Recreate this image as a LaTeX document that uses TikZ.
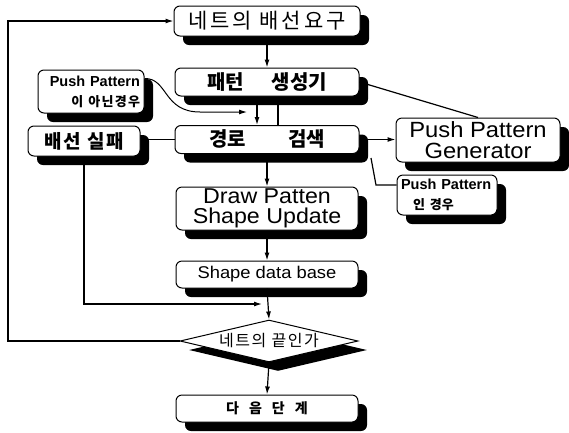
\documentclass[tikz,border=0pt]{standalone}
\usepackage{fontspec}
\setmainfont{Liberation Sans}
\newfontfamily\lat{Liberation Sans}[FakeStretch=1.08]
\newfontfamily\kr{Noto Sans CJK KR}
\newfontfamily\krs{Noto Sans CJK KR}[LetterSpace=10]
\newfontfamily\krw{Noto Sans CJK KR}[LetterSpace=14]
\usetikzlibrary{shapes.geometric,shadows,arrows.meta}
\begin{document}
\begin{tikzpicture}[x=1pt,y=-1pt,
  shadowed/.style={general shadow={fill=black, shadow xshift=9pt, shadow yshift=-9pt}},
  box/.style={draw, line width=1pt, rounded corners=6pt, fill=white, inner sep=0pt, align=center, shadowed},
  conn/.style={line width=1.2pt},
  arr/.style={conn, -{Latex[length=8pt,width=5pt]}},
]
\useasboundingbox (0,0) rectangle (569,432);

\node[box, minimum width=186pt, minimum height=30pt, font={\krw\fontsize{21}{21}\selectfont}] (b1) at (267,21)
  {네트의 배선요구};
\node[box, minimum width=184pt, minimum height=28pt, font={\kr\bfseries\fontsize{20}{20}\selectfont}] (b2) at (267,82)
  {패턴\hspace{28pt}생성기};
\node[box, minimum width=106pt, minimum height=43pt, text width=98pt, align=right,
      font={\bfseries\fontsize{14.5}{20}\selectfont}] (ppa) at (91,91.5)
  {Push Pattern\\ {\krs\bfseries\fontsize{13}{20}\selectfont 이 아닌경우}};
\node[box, minimum width=112pt, minimum height=30pt, font={\krs\bfseries\fontsize{19}{19}\selectfont}] (fail) at (84,141)
  {배선 실패};
\node[box, minimum width=184pt, minimum height=28pt, font={\kr\bfseries\fontsize{20}{20}\selectfont}] (path) at (267,139.5)
  {경로\hspace{42pt}검색};
\node[box, minimum width=164pt, minimum height=44pt, font={\lat\fontsize{22}{21}\selectfont}] (ppg) at (478,140)
  {Push Pattern\\Generator};
\node[box, minimum width=100pt, minimum height=40pt, text width=92pt, align=left,
      font={\bfseries\fontsize{14.5}{20}\selectfont}] (ppi) at (447,195)
  {Push Pattern\\ \hspace*{12pt}{\kr\bfseries\fontsize{13}{20}\selectfont 인 경우}};
\node[box, minimum width=182pt, minimum height=43pt, font={\lat\fontsize{21.5}{20.5}\selectfont}] (dps) at (267,208.5)
  {Draw Patten\\Shape Update};
\node[box, minimum width=182pt, minimum height=27pt, font={\lat\fontsize{17}{17}\selectfont}] (sdb) at (267,274.5)
  {Shape data base};
\node[shape=diamond, draw, line width=1pt, fill=white, inner sep=0pt, aspect=4.2,
      minimum width=178pt, minimum height=42pt, shadowed, font={\krs\fontsize{16}{16}\selectfont}] (dia) at (269,341)
  {네트의 끝인가};
\node[box, minimum width=182pt, minimum height=27pt, font={\kr\bfseries\fontsize{14}{14}\selectfont}] (next) at (267,408.5)
  {다\hspace{10pt}음\hspace{10pt}단\hspace{10pt}계};

\coordinate (lx) at (8,0);
\draw[arr] (dia.west) -- (dia.west -| lx) |- (b1.west);
\draw[arr] (b1.south) -- (b2.north);
\draw[arr] ([xshift=-10pt]b2.south) -- ([xshift=-10pt]path.north);
\draw[conn] ([xshift=11pt]b2.south) -- ([xshift=11pt]path.north);
\coordinate (cs) at ([yshift=13pt]ppa.east);
\coordinate (ce) at (247,112);
\draw[line width=1pt, -{Latex[length=8pt,width=5pt]}] (cs) .. controls (168,78) and (163,112) .. (200,112) -- (ce);
\draw[conn] (path.west) -- (path.west -| fail.east);
\coordinate (j1) at (84,304);
\coordinate (j2) at (262,304);
\draw[arr] (fail.south) -- (j1) -- (j2);
\draw[arr] (path.east) -- (path.east -| ppg.west);
\draw[conn] (b2.east) -- (ppg.north);
\coordinate (k1) at (371,158);
\coordinate (k2) at (376,185);
\draw[conn] (k1) -- (k2) -- (k2 -| ppi.west);
\draw[arr] (path.south) -- (dps.north);
\draw[arr] (dps.south) -- (sdb.north);
\draw[arr] (sdb.south) -- (dia.north);
\draw[arr] (dia.south) -- (next.north);
\end{tikzpicture}
\end{document}
